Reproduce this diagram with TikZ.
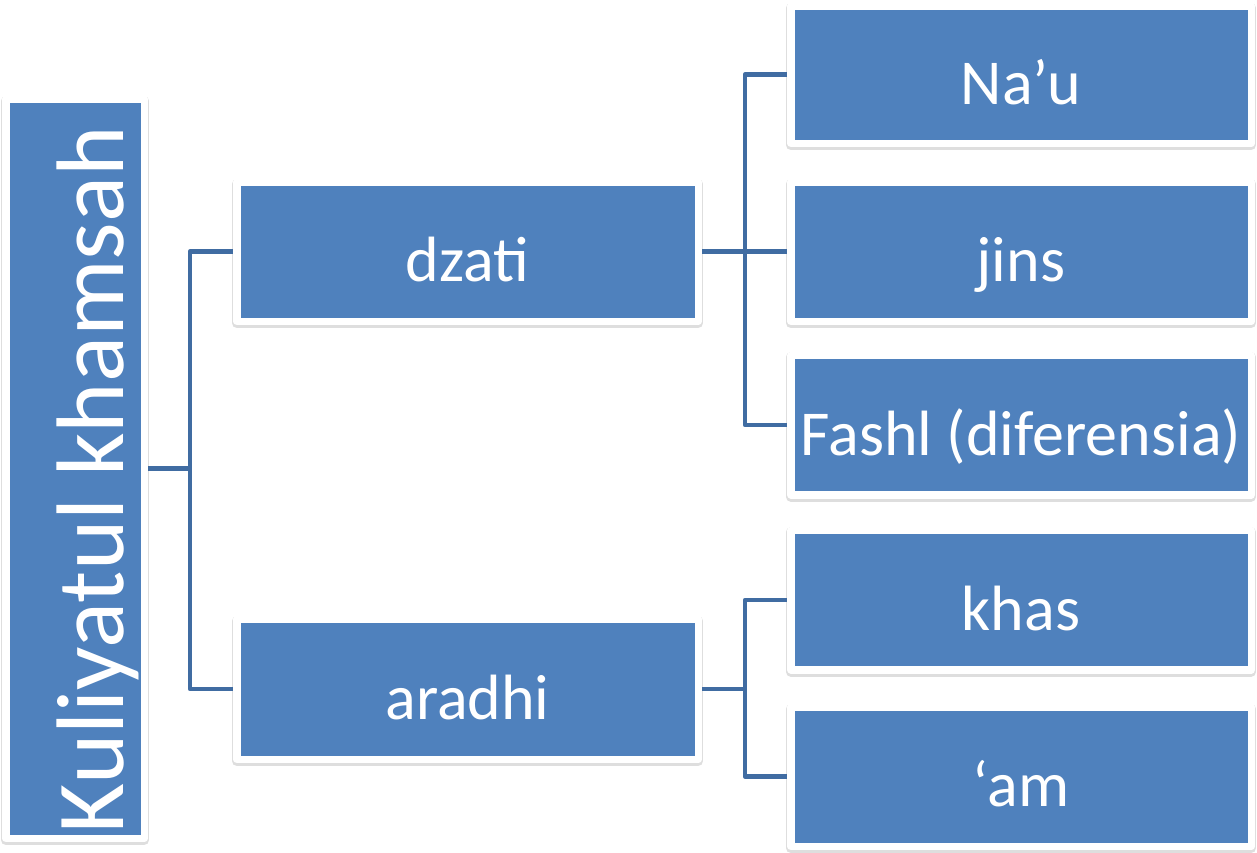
\documentclass[tikz,border=0pt]{standalone}
\usepackage{fontspec}
\setmainfont{Carlito}
\definecolor{boxblue}{RGB}{79,129,189}
\definecolor{lineblue}{RGB}{64,108,162}
\tikzset{
  framebox/.style={fill=boxblue, draw=white, line width=7.5pt, line join=round,
    inner sep=0pt, outer sep=3.75pt, text=white,
    preaction={draw=black, draw opacity=0.13, line width=10pt, transform canvas={yshift=-2pt}}},
  leafbox/.style={framebox, font=\fontsize{64}{70}\selectfont, text height=60pt, text depth=0pt},
  conn/.style={draw=lineblue, line width=4.6pt, line join=round}
}
\begin{document}
\begin{tikzpicture}[x=1pt,y=-1pt]
\useasboundingbox (0,0) rectangle (1257,852);
\fill[white] (0,0) rectangle (1257,852);
% nodes
\node[framebox, rotate=90, minimum width=739.5pt, minimum height=138.5pt,
      font=\fontsize{96}{100}\selectfont, text height=96pt, text depth=0pt] (root) at (75,468.5)
      {Kuliyatul khamsah\hspace*{22pt}};
\node[leafbox, minimum width=461.5pt, minimum height=139.5pt] (dzati) at (467.5,251.5) {dzati};
\node[leafbox, minimum width=461.5pt, minimum height=140.5pt] (aradhi) at (467.5,689) {aradhi};
\node[leafbox, minimum width=460.5pt, minimum height=137.5pt] (nau) at (1021,74.5) {Na’u};
\node[leafbox, minimum width=460.5pt, minimum height=139.5pt] (jins) at (1021,251.5) {jins};
\node[leafbox, minimum width=460.5pt, minimum height=139.5pt] (fashl) at (1021,425) {Fashl (diferensia)};
\node[leafbox, minimum width=460.5pt, minimum height=139.5pt] (khas) at (1021,600) {khas};
\node[leafbox, minimum width=460.5pt, minimum height=139.5pt] (am) at (1021,776.5) {‘am};
% connectors
\coordinate (j1) at (190,468.5);
\coordinate (j2) at (745,251.5);
\coordinate (j3) at (745,689);
\draw[conn] (root.south) -- (j1);
\draw[conn] (j1) |- (dzati.west);
\draw[conn] (j1) |- (aradhi.west);
\draw[conn] (dzati.east) -- (j2);
\draw[conn] (j2) |- (nau.west);
\draw[conn] (j2) -- (jins.west);
\draw[conn] (j2) |- (fashl.west);
\draw[conn] (aradhi.east) -- (j3);
\draw[conn] (j3) |- (khas.west);
\draw[conn] (j3) |- (am.west);
\end{tikzpicture}
\end{document}
